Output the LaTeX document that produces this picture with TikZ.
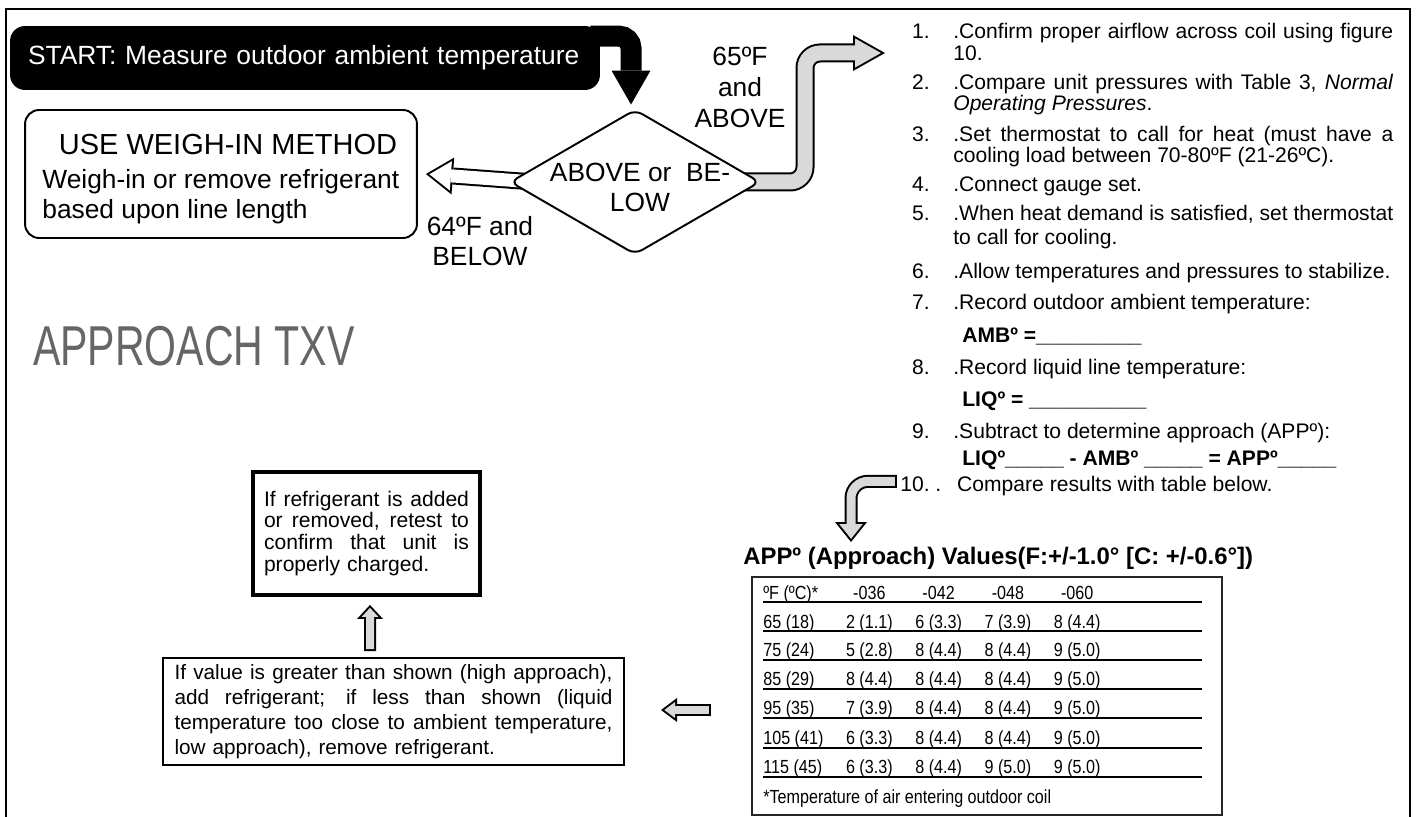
\documentclass[tikz,border=0pt]{standalone}
\usepackage{graphicx}
\usepackage{fontspec}
\setmainfont{Liberation Sans}
\usetikzlibrary{shapes.geometric, arrows.meta, positioning, calc, backgrounds}

\definecolor{arrowgray}{HTML}{D9D9D9}
\definecolor{txvgray}{HTML}{666666}

\newcommand{\fsz}[2]{\fontsize{#1}{#2}\selectfont}
\newcommand{\jline}[2]{\makebox[#1][s]{\spaceskip=0pt\relax #2}}
\newcommand{\narrow}[1]{\scalebox{0.85}[1]{#1}}
\newcommand{\approw}[5]{\makebox[1.427cm][l]{\narrow{#1}}\makebox[1.386cm]{\narrow{#2}}\makebox[1.386cm]{\narrow{#3}}\makebox[1.386cm]{\narrow{#4}}\makebox[1.386cm]{\narrow{#5}}}

\tikzset{
  blockarrow/.style n args={8}{line width=#1cm, draw=black,
    -{Triangle[length=#2cm, width=#3cm, line width=0pt]},
    postaction={draw=#8, line width=#4cm, shorten >=#7cm, shorten <=0.04cm,
      -{Triangle[length=#5cm, width=#6cm, line width=0pt]}}},
  listnum/.style={anchor=base east, inner sep=0pt, font=\fsz{12}{14}},
  listtxt/.style={anchor=base west, inner sep=0pt, font=\fsz{12}{14}},
  listfill/.style={anchor=base west, inner sep=0pt, font=\fsz{12}{14}\bfseries},
  rowtxt/.style={anchor=base west, inner sep=0pt, font=\fsz{10.8}{12}},
  bigtxt/.style={inner sep=0pt, font=\fsz{15}{17}, align=center},
}

\begin{document}
\begin{tikzpicture}[x=0.02cm, y=-0.02cm]
    \useasboundingbox (0,0) rectangle (1417,817);
    % Draw the frame
    \draw[line width=1.1pt] (6,817) -- (6,9) -- (1410,9) -- (1410,817);

    % Draw the start bar, the decision & the weigh-in box
    \node[fill=black, rounded corners=0.3cm, minimum width=11.8cm, minimum height=1.28cm,
          text width=11.08cm, inner xsep=0.36cm, align=left, text=white, font=\fsz{15}{17}]
          (start) at (305,58) {START: Measure outdoor ambient temperature};
    \node[diamond, draw, fill=white, line width=1.1pt, minimum width=5cm, minimum height=2.9cm,
          inner sep=0pt, rounded corners=0.16cm] (dia) at (635,182) {};
    \node[bigtxt] (diatxt) at (640,187) {ABOVE or\ \ BE-\\LOW};
    \node[draw, fill=white, line width=1.1pt, rounded corners=0.28cm, minimum width=7.84cm,
          minimum height=2.56cm] (weigh) at (221,174) {};
    \node[inner sep=0pt, font=\fsz{16.5}{19}] (weighhead) at (228,145) {USE WEIGH-IN METHOD};
    \node[inner sep=0pt, anchor=west, align=left, font=\fsz{15}{17}] (weighbody) at (42,197)
          {Weigh-in or remove refrigerant\\based upon line length};
    \node[bigtxt, font=\fsz{15}{17.6}] (abovelbl) at (740,87) {65ºF\\and\\ABOVE};
    \node[bigtxt] (belowlbl) at (480,241) {64ºF and\\BELOW};

    % Title
    \node[inner sep=0pt, text=txvgray, font=\fsz{32}{36}] (txv) at (194,346)
          {\scalebox{0.73}[1]{APPROACH TXV}};

    % The steps
    \node[listnum] (n1) at (930,38.6) {1.};
    \node[listtxt] (s1) at (953,38.6) {\makebox[8.8cm][s]{.Confirm proper airflow across coil using figure}};
    \node[listtxt] (s1b) at (953,60.6) {10.};
    \node[listnum] (n2) at (930,89.6) {2.};
    \node[listtxt] (s2) at (953,89.6) {\makebox[8.8cm][s]{.Compare unit pressures with Table 3, \textit{Normal}}};
    \node[listtxt] (s2b) at (953,110.6) {\textit{Operating Pressures}.};
    \node[listnum] (n3) at (930,141.6) {3.};
    \node[listtxt] (s3) at (953,141.6) {\makebox[8.8cm][s]{.Set thermostat to call for heat (must have a}};
    \node[listtxt] (s3b) at (953,162.6) {cooling load between 70-80ºF (21-26ºC).};
    \node[listnum] (n4) at (930,191.6) {4.};
    \node[listtxt] (s4) at (953,191.6) {.Connect gauge set.};
    \node[listnum] (n5) at (930,220.6) {5.};
    \node[listtxt] (s5) at (953,220.6) {\makebox[8.8cm][s]{.When heat demand is satisfied, set thermostat}};
    \node[listtxt] (s5b) at (953,244.6) {to call for cooling.};
    \node[listnum] (n6) at (930,278.6) {6.};
    \node[listtxt] (s6) at (953,278.6) {.Allow temperatures and pressures to stabilize.};
    \node[listnum] (n7) at (930,309.6) {7.};
    \node[listtxt] (s7) at (953,309.6) {.Record outdoor ambient temperature:};
    \node[listfill] (amb) at (962,342.6) {AMBº =\_\_\_\_\_\_\_\_\_};
    \node[listnum] (n8) at (930,374.6) {8.};
    \node[listtxt] (s8) at (953,374.6) {.Record liquid line temperature:};
    \node[listfill] (liq) at (962,406.6) {LIQº = \_\_\_\_\_\_\_\_\_\_};
    \node[listnum] (n9) at (930,438.6) {9.};
    \node[listtxt] (s9) at (953,438.6) {.Subtract to determine approach (APPº):};
    \node[listfill] (app) at (962,465.6) {LIQº\_\_\_\_\_ - AMBº \_\_\_\_\_ = APPº\_\_\_\_\_};
    \node[listnum] (n10) at (930,491.6) {10.};
    \node[listtxt] (s10) at (935,491.6) {.\hspace{0.32cm}Compare results with table below.};

    % The approach table
    \node[anchor=base west, inner sep=0pt, font=\fsz{13.6}{16}\bfseries] (apptitle) at (743,564)
          {APPº (Approach) Values(F:+/-1.0° [C: +/-0.6°])};
    \node[draw=black!85, line width=1.4pt, minimum width=9.4cm, minimum height=4.76cm, inner sep=0pt]
          (apptable) at (987,696) {};
    \node[rowtxt] (r0) at (763,599) {\approw{ºF (ºC)*}{-036}{-042}{-048}{-060}};
    \node[rowtxt] (r1) at (763,628) {\approw{65 (18)}{2 (1.1)}{6 (3.3)}{7 (3.9)}{8 (4.4)}};
    \node[rowtxt] (r2) at (763,656) {\approw{75 (24)}{5 (2.8)}{8 (4.4)}{8 (4.4)}{9 (5.0)}};
    \node[rowtxt] (r3) at (763,685) {\approw{85 (29)}{8 (4.4)}{8 (4.4)}{8 (4.4)}{9 (5.0)}};
    \node[rowtxt] (r4) at (763,714) {\approw{95 (35)}{7 (3.9)}{8 (4.4)}{8 (4.4)}{9 (5.0)}};
    \node[rowtxt] (r5) at (763,744) {\approw{105 (41)}{6 (3.3)}{8 (4.4)}{8 (4.4)}{9 (5.0)}};
    \node[rowtxt] (r6) at (763,773) {\approw{115 (45)}{6 (3.3)}{8 (4.4)}{9 (5.0)}{9 (5.0)}};
    \node[rowtxt] (foot) at (763,803) {\narrow{*Temperature of air entering outdoor coil}};
    \draw[line width=0.8pt] (763,602) -- (1202,602) (763,631) -- (1202,631) (763,660) -- (1202,660)
          (763,689) -- (1202,689) (763,718) -- (1202,718) (763,748) -- (1202,748) (763,777) -- (1202,777);

    % Result boxes
    \node[draw, line width=2.2pt, minimum width=4.54cm, minimum height=2.46cm, text width=4.1cm,
          align=left, inner sep=0pt, font=\fsz{12}{12.5}] (retest) at (366.5,533.5)
          {\jline{4.1cm}{If refrigerant is added}\\\jline{4.1cm}{or removed, retest to}\\
           \jline{4.1cm}{confirm that unit is}\\properly charged.};
    \node[draw, line width=1.1pt, minimum width=9.22cm, minimum height=2.14cm, text width=8.76cm,
          align=left, inner sep=0pt, font=\fsz{11.8}{14.2}] (lowbox) at (393.5,711.5)
          {\jline{8.76cm}{If value is greater than shown (high approach),}\\
           \jline{8.76cm}{add refrigerant; if less than shown (liquid}\\
           \jline{8.76cm}{temperature too close to ambient temperature,}\\
           low approach), remove refrigerant.};

    % Draw the block arrows
    \begin{scope}[on background layer]
      \draw[line width=0.42cm, rounded corners=0.24cm,
            -{Triangle[length=0.68cm, width=0.78cm, line width=0pt]}]
            ($(start.north east)+(-10,10.5)$) -| ($(dia.north)+(-4,-4)$);
      \coordinate (toList) at (885,53);
      \draw[blockarrow={0.38}{0.64}{0.72}{0.30}{0.518}{0.584}{0.082}{arrowgray}, rounded corners=0.3cm]
            ($(dia.east)+(-25,0)$) -| ($(toList)+(-80,0)$) -- (toList);
      \draw[blockarrow={0.34}{0.54}{0.74}{0.26}{0.43}{0.588}{0.07}{white}]
            ($(dia.west)+(25,0)$) -- ($(weigh.east)+(8,0)$);
      \coordinate (toTitle) at (851,542);
      \draw[blockarrow={0.26}{0.40}{0.64}{0.18}{0.296}{0.474}{0.064}{arrowgray}, rounded corners=0.34cm]
            ($(n10.west)+(-3,-3)$) -| (toTitle);
      \draw[blockarrow={0.24}{0.28}{0.52}{0.16}{0.182}{0.336}{0.058}{arrowgray}]
            ($(lowbox.north)+(-23.5,-6)$) -- ($(retest.south)+(3.5,8)$);
      \coordinate (fromTable) at (711,710);
      \coordinate (toLow) at (661,710);
      \draw[blockarrow={0.24}{0.32}{0.48}{0.16}{0.214}{0.32}{0.066}{arrowgray}] (fromTable) -- (toLow);
    \end{scope}
\end{tikzpicture}
\end{document}
